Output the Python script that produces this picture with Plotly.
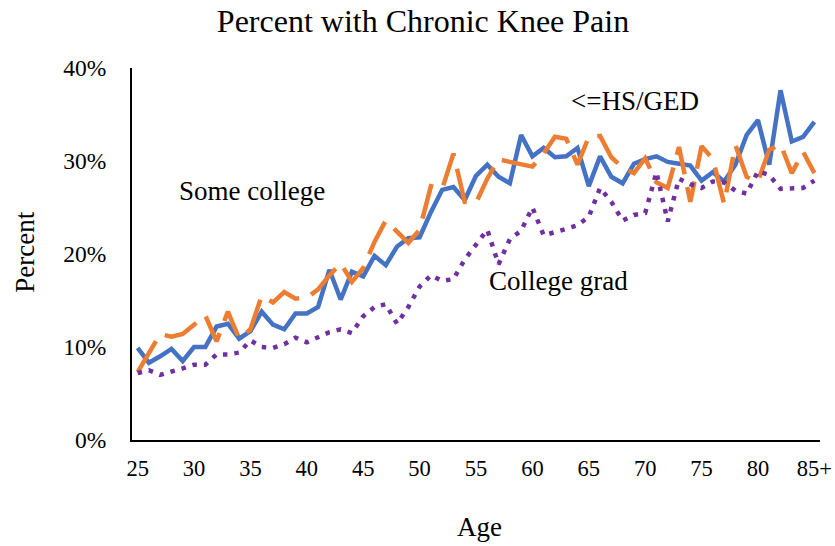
import plotly.graph_objects as go

ages = list(range(25, 86))
tick_vals = [25, 30, 35, 40, 45, 50, 55, 60, 65, 70, 75, 80, 85]
tick_text = ["25", "30", "35", "40", "45", "50", "55", "60", "65", "70", "75", "80", "85+"]

hs_ged = [9.9, 8.3, 9.0, 9.8, 8.5, 10.0, 10.0, 12.2, 12.5, 10.9,
          11.7, 13.8, 12.4, 11.9, 13.6, 13.6, 14.3, 18.3, 15.1, 18.1,
          17.6, 19.8, 18.8, 20.8, 21.7, 21.8, 24.5, 26.9, 27.2, 25.8,
          28.4, 29.6, 28.3, 27.6, 32.8, 30.5, 31.4, 30.4, 30.5, 31.4,
          27.3, 30.5, 28.3, 27.6, 29.7, 30.2, 30.5, 29.9, 29.7, 29.5,
          27.9, 28.8, 27.8, 29.6, 32.8, 34.4, 29.6, 37.6, 32.1, 32.6,
          34.2]

some_college = [7.3, 9.4, 11.4, 11.1, 11.4, 12.4, 13.4, 10.6, 13.8, 10.9,
                11.9, 15.5, 14.8, 15.9, 15.2, 15.3, 16.2, 17.7, 19.0, 17.0,
                18.5, 21.3, 23.6, 22.4, 21.2, 22.6, 27.3, 27.0, 30.8, 25.6,
                25.5, 28.1, 30.2, 29.9, 29.7, 29.4, 30.8, 32.6, 32.4, 29.6,
                32.6, 32.7, 30.4, 29.3, 28.7, 30.3, 27.7, 27.1, 31.5, 25.6,
                31.6, 30.2, 25.4, 31.7, 28.3, 27.8, 31.2, 31.8, 28.7, 31.0,
                28.7]

college_grad = [7.2, 7.5, 7.0, 7.3, 7.7, 8.1, 8.1, 9.2, 9.2, 9.4,
                10.7, 10.0, 9.9, 10.3, 11.0, 10.5, 11.1, 11.6, 11.9, 11.5,
                13.3, 14.3, 14.6, 12.5, 14.3, 16.5, 17.7, 17.1, 17.3, 19.4,
                21.0, 22.6, 18.9, 21.6, 22.5, 25.0, 22.0, 22.3, 22.7, 23.1,
                24.0, 27.1, 25.6, 23.6, 24.2, 24.4, 28.8, 23.5, 28.1, 27.5,
                27.1, 27.8, 27.7, 26.8, 26.5, 28.9, 28.5, 27.0, 27.1, 27.1,
                27.9]

FONT = "Liberation Serif, Times New Roman, serif"

fig = go.Figure()
fig.add_trace(go.Scatter(x=ages, y=[v / 100 for v in hs_ged], mode="lines",
                         name="<=HS/GED",
                         line=dict(color="#4472C4", width=4.5)))
fig.add_trace(go.Scatter(x=ages, y=[v / 100 for v in some_college], mode="lines",
                         name="Some college",
                         line=dict(color="#ED7D31", width=4.5, dash="36px,13px")))
fig.add_trace(go.Scatter(x=ages, y=[v / 100 for v in college_grad], mode="lines",
                         name="College grad",
                         line=dict(color="#7030A0", width=4.5, dash="4.5px,7px")))

ann_font = dict(family=FONT, size=27, color="black")

fig.update_layout(
    width=835, height=546,
    margin=dict(l=131.5, r=15, t=68, b=106, autoexpand=False),
    paper_bgcolor="white", plot_bgcolor="white",
    showlegend=False,
    font=dict(family=FONT, color="black", size=23),
    title=dict(text="Percent with Chronic Knee Pain", x=0.5066, xref="container",
               y=0.961, yref="container", xanchor="center", yanchor="middle",
               font=dict(family=FONT, size=32, color="black")),
    xaxis=dict(range=[24.5, 85.5], tickmode="array", tickvals=tick_vals,
               ticktext=tick_text, showgrid=False, zeroline=False,
               showline=True, linecolor="black", linewidth=2, ticks="",
               automargin=False, ticklabelstandoff=7,
               tickfont=dict(family=FONT, size=22.5, color="black")),
    yaxis=dict(range=[0, 0.4], tickmode="array",
               tickvals=[0, 0.1, 0.2, 0.3, 0.4],
               ticktext=["0%", "10%", "20%", "30%", "40%"],
               showgrid=False, zeroline=False, showline=True,
               linecolor="black", linewidth=2, ticks="",
               automargin=False, ticklabelstandoff=19,
               tickfont=dict(family=FONT, size=23.5, color="black")),
    annotations=[
        dict(text="<=HS/GED", x=69.07, y=0.3645, xref="x", yref="y",
             xanchor="center", yanchor="middle", showarrow=False, font=ann_font),
        dict(text="Some college", x=35.18, y=0.268, xref="x", yref="y",
             xanchor="center", yanchor="middle", showarrow=False, font=ann_font),
        dict(text="College grad", x=62.35, y=0.171, xref="x", yref="y",
             xanchor="center", yanchor="middle", showarrow=False, font=ann_font),
        dict(text="Percent", x=-0.156, y=0.505, xref="paper", yref="paper",
             xanchor="center", yanchor="middle", textangle=-90,
             showarrow=False, font=ann_font),
        dict(text="Age", x=0.5047, y=-0.234, xref="paper", yref="paper",
             xanchor="center", yanchor="middle", showarrow=False, font=ann_font),
    ],
)

fig.write_html("out.html",
               config={"displayModeBar": False},
               post_script="document.body.style.margin='0';document.body.style.overflow='hidden';")
